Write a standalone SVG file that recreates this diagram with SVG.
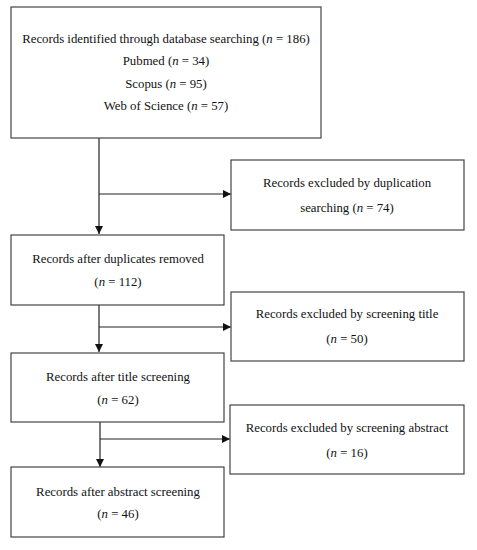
<svg xmlns="http://www.w3.org/2000/svg" width="477" height="550" viewBox="0 0 477 550">
<defs>
<style>
.box{fill:#fff;stroke:#444;stroke-width:1.2}
.ln{fill:none;stroke:#222;stroke-width:1.2}
text{font-family:"Liberation Serif","Times New Roman",serif;font-size:12.8px;fill:#111;text-anchor:middle}
</style>
<marker id="ah" viewBox="0 0 10 10" refX="10" refY="5" markerWidth="8" markerHeight="8" markerUnits="userSpaceOnUse" orient="auto">
<path d="M0,0 L10,5 L0,10 Z" fill="#111"/>
</marker>
</defs>
<rect width="477" height="550" fill="#fff"/>
<g id="connectors">
<line class="ln" x1="99" y1="138" x2="99" y2="234" marker-end="url(#ah)"/>
<line class="ln" x1="99" y1="194" x2="231" y2="194" marker-end="url(#ah)"/>
<line class="ln" x1="99" y1="305" x2="99" y2="352" marker-end="url(#ah)"/>
<line class="ln" x1="99" y1="327" x2="231" y2="327" marker-end="url(#ah)"/>
<line class="ln" x1="100" y1="422" x2="100" y2="467" marker-end="url(#ah)"/>
<line class="ln" x1="100" y1="439" x2="230" y2="439" marker-end="url(#ah)"/>
</g>
<g id="n1">
<rect class="box" x="11" y="7" width="310" height="131"/>
<text x="166" y="43">Records identified through database searching (<tspan font-style="italic">n</tspan> = 186)</text>
<text x="166" y="65">Pubmed (<tspan font-style="italic">n</tspan> = 34)</text>
<text x="166" y="88">Scopus (<tspan font-style="italic">n</tspan> = 95)</text>
<text x="166" y="110">Web of Science (<tspan font-style="italic">n</tspan> = 57)</text>
</g>
<g id="n2">
<rect class="box" x="231" y="160" width="233" height="70"/>
<text x="347" y="187">Records excluded by duplication</text>
<text x="347" y="212">searching (<tspan font-style="italic">n</tspan> = 74)</text>
</g>
<g id="n3">
<rect class="box" x="11" y="235" width="213" height="70"/>
<text x="118" y="263">Records after duplicates removed</text>
<text x="118" y="286">(<tspan font-style="italic">n</tspan> = 112)</text>
</g>
<g id="n4">
<rect class="box" x="231" y="292" width="233" height="69"/>
<text x="347" y="318">Records excluded by screening title</text>
<text x="347" y="343">(<tspan font-style="italic">n</tspan> = 50)</text>
</g>
<g id="n5">
<rect class="box" x="11" y="353" width="213" height="69"/>
<text x="118" y="381">Records after title screening</text>
<text x="118" y="404">(<tspan font-style="italic">n</tspan> = 62)</text>
</g>
<g id="n6">
<rect class="box" x="230" y="405" width="234" height="69"/>
<text x="347" y="432">Records excluded by screening abstract</text>
<text x="347" y="457">(<tspan font-style="italic">n</tspan> = 16)</text>
</g>
<g id="n7">
<rect class="box" x="11" y="467" width="213" height="70"/>
<text x="118" y="496">Records after abstract screening</text>
<text x="118" y="518">(<tspan font-style="italic">n</tspan> = 46)</text>
</g>
</svg>
